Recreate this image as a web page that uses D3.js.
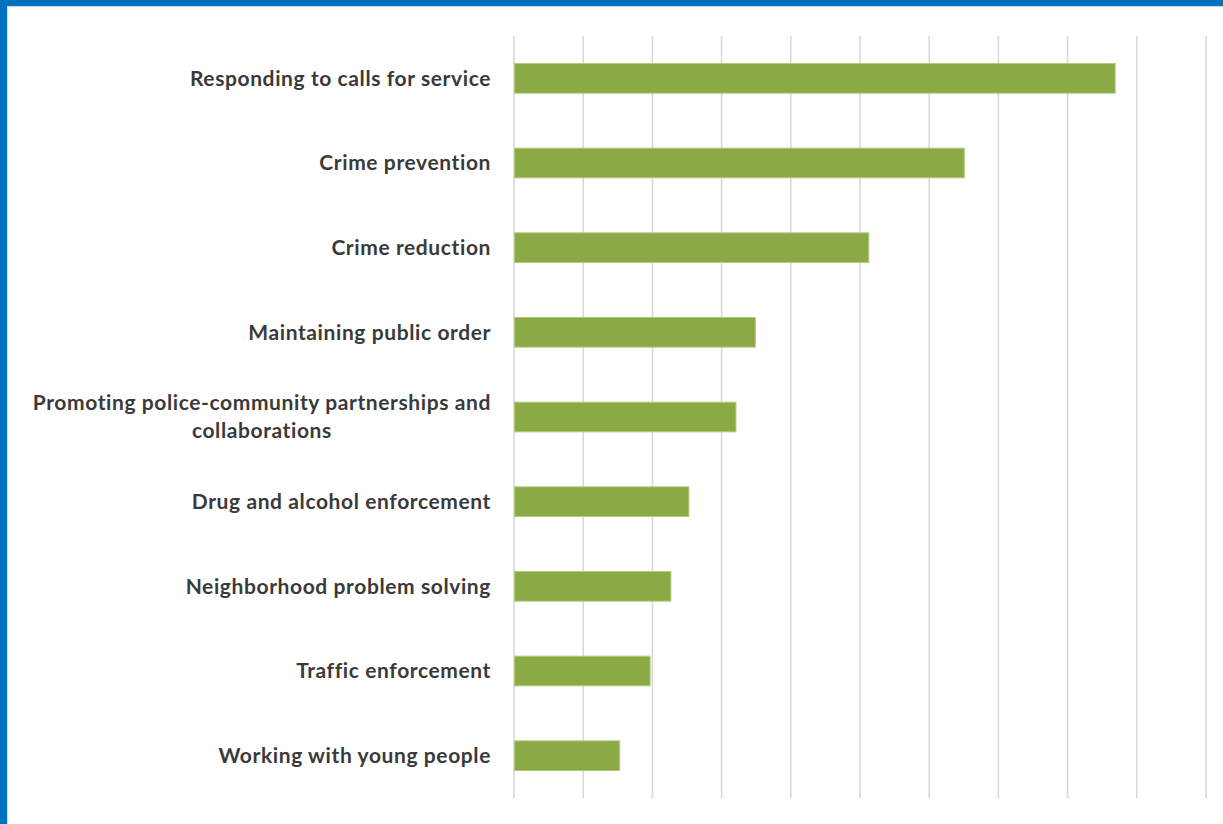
<!DOCTYPE html>
<html>
<head>
<meta charset="utf-8">
<script src="https://cdn.jsdelivr.net/npm/d3@7"></script>
<style>
  html, body { margin: 0; padding: 0; background: #fff; }
  #chart { width: 1223px; height: 824px; }
</style>
</head>
<body>
<div id="chart"></div>
<script>
'use strict';

// categories top to bottom, values (0..50, step 5)
const categories = [
  'Responding to calls for service',
  'Crime prevention',
  'Crime reduction',
  'Maintaining public order',
  'Promoting police-community partnerships and|collaborations',
  'Drug and alcohol enforcement',
  'Neighborhood problem solving',
  'Traffic enforcement',
  'Working with young people'
];
const values = [43.4, 32.5, 25.6, 17.4, 16.0, 12.6, 11.3, 9.8, 7.6];
const gridTicks = [0, 5, 10, 15, 20, 25, 30, 35, 40, 45, 50];

const W = 1223, H = 824;
const margin = {top: 36, right: 17, bottom: 26, left: 514};
const width = W - margin.left - margin.right,
      height = H - margin.top - margin.bottom;

const root = d3.select('#chart').append('svg')
    .attr('width', W)
    .attr('height', H);

// frame: blue band top and left with a thin grey inner line
root.append('rect').attr('x', 0).attr('y', 0).attr('width', W).attr('height', 6).attr('fill', '#0070C0');
root.append('rect').attr('x', 0).attr('y', 0).attr('width', 7).attr('height', H).attr('fill', '#0070C0');
root.append('rect').attr('x', 7).attr('y', 6).attr('width', W - 7).attr('height', 1.2).attr('fill', '#d9d9d9');
root.append('rect').attr('x', 7).attr('y', 6).attr('width', 1.2).attr('height', H - 6).attr('fill', '#d9d9d9');

const svg = root.append('g')
    .attr('transform', 'translate(' + margin.left + ',' + margin.top + ')');

const xScale = d3.scaleLinear()
    .domain([0, 50])
    .range([0, width]);

const yScale = d3.scaleBand()
    .domain(categories)
    .range([0, height])
    .paddingInner(0.65)
    .paddingOuter(0.325);

// vertical gridlines
svg.selectAll('.grid')
    .data(gridTicks)
    .enter().append('line')
    .attr('class', 'grid')
    .attr('x1', d => xScale(d))
    .attr('x2', d => xScale(d))
    .attr('y1', 0)
    .attr('y2', height)
    .attr('stroke', '#d9d9d9')
    .attr('stroke-width', 1.6);

// bars
svg.selectAll('.bar')
    .data(values)
    .enter().append('rect')
    .attr('class', 'bar')
    .attr('x', xScale(0) + 0.5)
    .attr('y', (d, i) => yScale(categories[i]))
    .attr('width', d => xScale(d) - xScale(0))
    .attr('height', yScale.bandwidth())
    .attr('fill', '#8BA944')
    .attr('stroke', '#b3ca7c')
    .attr('stroke-width', 1);

// category labels, multi-line ones centred as a block
const labels = svg.selectAll('.label')
    .data(categories)
    .enter().append('text')
    .attr('class', 'label')
    .attr('font-family', 'Lato, "Open Sans", sans-serif')
    .attr('font-weight', 'bold')
    .attr('font-size', '21px')
    .attr('letter-spacing', '0.6px')
    .attr('fill', '#3a3a3a')
    .attr('y', d => yScale(d) + yScale.bandwidth() / 2);

labels.each(function(d) {
  const lines = d.split('|');
  const t = d3.select(this);
  if (lines.length === 1) {
    t.attr('text-anchor', 'end')
      .attr('x', -23)
      .attr('dy', '0.35em')
      .text(d);
  } else {
    const spans = t.selectAll('tspan').data(lines).enter().append('tspan')
        .text(l => l)
        .attr('dy', (l, i) => i === 0 ? '-0.35em' : '1.35em');
    // centre lines under the widest one, right edge at -23
    const w = d3.max(spans.nodes(), n => n.getComputedTextLength());
    spans.attr('text-anchor', 'middle').attr('x', -23 - w / 2);
  }
});
</script>
</body>
</html>
